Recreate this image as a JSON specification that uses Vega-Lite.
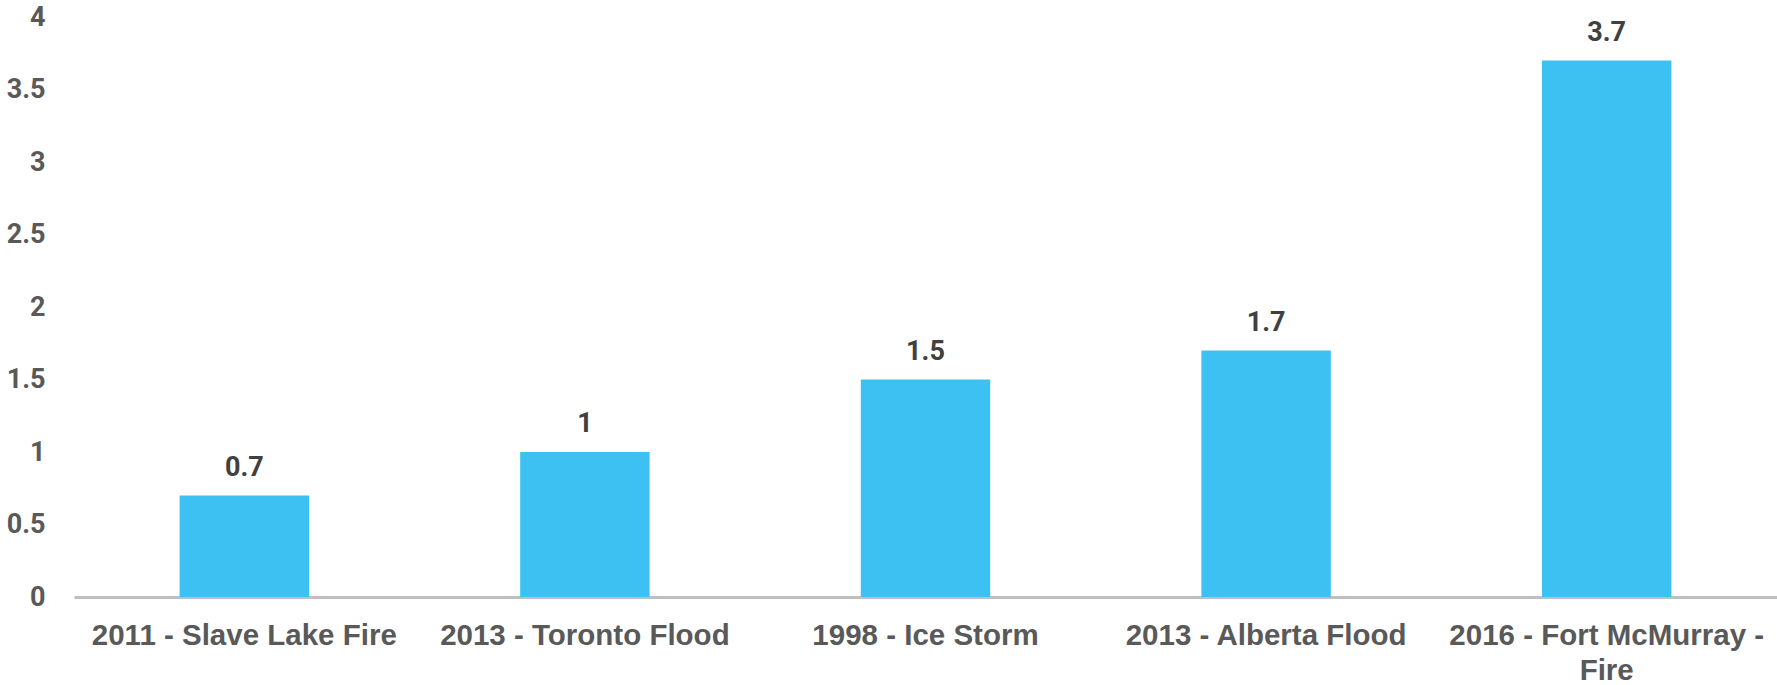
{
  "$schema": "https://vega.github.io/schema/vega-lite/v6.json",
  "width": 1703,
  "height": 580,
  "autosize": {"type": "none"},
  "padding": {"left": 74, "top": 17, "right": 0, "bottom": 88},
  "background": "white",
  "config": {"view": {"stroke": null}},
  "data": {
    "values": [
      {"event": "2011 - Slave Lake Fire", "value": 0.7},
      {"event": "2013 - Toronto Flood", "value": 1},
      {"event": "1998 - Ice Storm", "value": 1.5},
      {"event": "2013 - Alberta Flood", "value": 1.7},
      {"event": "2016 - Fort McMurray - Fire", "value": 3.7}
    ]
  },
  "encoding": {
    "x": {
      "field": "event", "type": "nominal", "sort": null,
      "scale": {"paddingInner": 0.62, "paddingOuter": 0.31},
      "axis": {
        "title": null, "labelAngle": 0, "ticks": false, "labelLimit": 0,
        "domainColor": "#bfbfbf", "domainWidth": 3,
        "labelFont": "Liberation Sans", "labelFontWeight": "bold", "labelFontSize": 29.5,
        "labelColor": "#595959", "labelPadding": 24, "labelLineHeight": 35,
        "labelBaseline": "top",
        "labelExpr": "datum.label == '2016 - Fort McMurray - Fire' ? ['2016 - Fort McMurray -', 'Fire'] : datum.label"
      }
    },
    "y": {
      "field": "value", "type": "quantitative",
      "scale": {"domain": [0, 4]},
      "axis": {
        "title": null, "values": [0, 0.5, 1, 1.5, 2, 2.5, 3, 3.5, 4], "format": "~g",
        "grid": false, "ticks": false, "domain": false,
        "labelFont": "Roboto", "labelFontWeight": "bold", "labelFontSize": 27,
        "labelColor": "#595959", "labelPadding": 29
      }
    }
  },
  "layer": [
    {"mark": {"type": "bar", "color": "#3dc1f3"}},
    {
      "mark": {"type": "text", "baseline": "bottom", "dy": -14, "font": "Roboto", "fontWeight": "bold", "fontSize": 27, "color": "#404040"},
      "encoding": {"text": {"field": "value", "type": "quantitative"}}
    }
  ]
}
